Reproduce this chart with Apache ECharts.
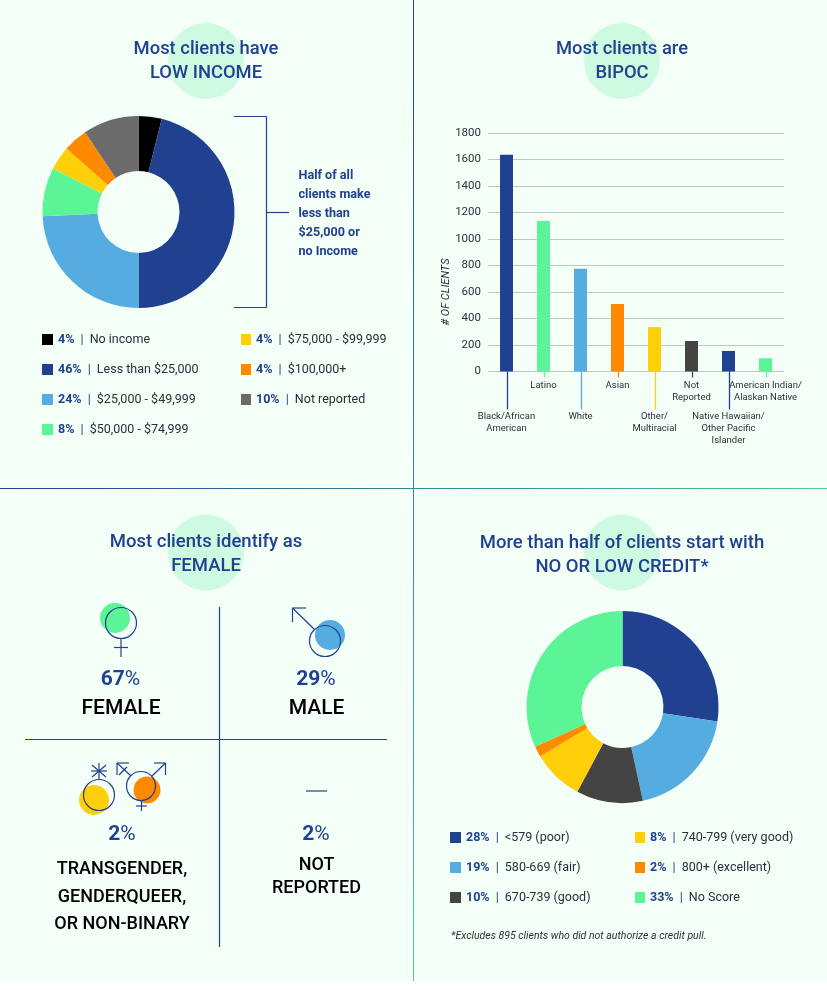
<!DOCTYPE html>
<html><head><meta charset="utf-8">
<style>html,body{margin:0;padding:0;background:#fff}#c{width:827px;height:990px}</style>
<script src="https://cdn.jsdelivr.net/npm/echarts@6/dist/echarts.min.js"></script>
</head><body><div id="c"></div>
<script>
// ---- data ----
const incomeNames = ['No income','Less than $25,000','$25,000 - $49,999','$50,000 - $74,999','$75,000 - $99,999','$100,000+','Not reported'];
const incomeLabels = [4,46,24,8,4,4,10];
const incomeValues = [3.9,46.1,24.3,8.2,4,4.1,9.4];
const raceCategories = ['Black/African\nAmerican','Latino','White','Asian','Other/\nMultiracial','Not\nReported','Native Hawaiian/\nOther Pacific\nIslander','American Indian/\nAlaskan Native'];
const raceValues = [1635,1135,775,510,335,230,155,100];
const raceTicks = [0,200,400,600,800,1000,1200,1400,1600,1800];
const creditNames = ['<579 (poor)','580-669 (fair)','670-739 (good)','740-799 (very good)','800+ (excellent)','No Score'];
const creditLabels = [28,19,10,8,2,33];
const creditValues = [27.4,19.2,11.2,8.6,1.8,31.8];
// ---- styles ----
const NAVY='#20418F',SKY='#55ACE0',GREEN='#5BF598',ORANGE='#FF8A00',YELLOW='#FFD00A',GRAY='#6B6B6B',DARK='#444444',BLACK='#000000';
const BG='#F4FFF8',MINT='#CEFAE1',INK='#2A2F3A';
const FONT='Roboto, sans-serif';
const incomeColors=[BLACK,NAVY,SKY,GREEN,YELLOW,ORANGE,GRAY];
const raceColors=[NAVY,GREEN,SKY,ORANGE,YELLOW,DARK,NAVY,GREEN];
const creditColors=[NAVY,SKY,DARK,YELLOW,ORANGE,GREEN];
const leaderLengths=[38,6,38,6,38,6,38,6];

const legendRich={p:{fontFamily:FONT,fontSize:12.5,fontWeight:700,color:NAVY,lineHeight:14},
  s:{fontFamily:FONT,fontSize:12.5,color:NAVY,lineHeight:14,padding:[0,3,0,3]},
  t:{fontFamily:FONT,fontSize:12.5,color:INK,lineHeight:14}};
function mkLegend(names,labels,subset,left,top,size){
  return {show:true,orient:'vertical',left,top,padding:0,itemGap:16,itemWidth:size,itemHeight:11,icon:'rect',
    selectedMode:false,data:subset,itemStyle:{borderWidth:0},
    textStyle:{rich:legendRich},
    formatter:n=>`{p|${labels[names.indexOf(n)]}%}{s| | }{t|${n}}`};
}
function mkTitle(line1,line2,cx,top,size){
  return {text:line1+'\n'+line2,left:cx,top,textAlign:'center',padding:0,
    textStyle:{fontFamily:FONT,fontSize:size,fontWeight:500,color:NAVY,lineHeight:23.5}};
}
function mkPie(names,values,colors,cx,cy){
  return {type:'pie',center:[cx,cy],radius:[41,96],startAngle:90,clockwise:true,silent:true,color:colors,
    label:{show:false},labelLine:{show:false},itemStyle:{borderWidth:0},
    data:names.map((n,i)=>({name:n,value:values[i]}))};
}
const ln=(x1,y1,x2,y2,stroke=NAVY,lineWidth=1.2)=>({type:'line',shape:{x1,y1,x2,y2},style:{stroke,lineWidth},silent:true,z:5});
const disc=(cx,cy,r,fill)=>({type:'circle',shape:{cx,cy,r},style:{fill},silent:true,z:3});
const ring=(cx,cy,r)=>({type:'circle',shape:{cx,cy,r},style:{fill:'transparent',stroke:NAVY,lineWidth:1.2},silent:true,z:5});
const txt=(text,x,y,size,weight,fill,align='center')=>({type:'text',x,y,silent:true,z:6,
  style:{text,align,verticalAlign:'middle',fontFamily:FONT,fontSize:size,fontWeight:weight,fill}});
const pct=(v,x,y,size)=>({type:'text',x,y,silent:true,z:6,style:{text:`{a|${v}}{b|%}`,align:'center',verticalAlign:'middle',
  rich:{a:{fontFamily:FONT,fontSize:size,fontWeight:700,fill:NAVY},b:{fontFamily:FONT,fontSize:size,fontWeight:400,fill:NAVY}}}});
const vGrad={type:'linear',x:0,y:0,x2:0,y2:1,colorStops:[{offset:0,color:NAVY},{offset:1,color:'#4FC9A0'}]};
const hGrad={type:'linear',x:0,y:0,x2:1,y2:0,colorStops:[{offset:0,color:NAVY},{offset:1,color:'#4FC9A0'}]};

const graphics=[
  {type:'rect',shape:{x:0,y:0,width:827,height:981},style:{fill:BG},silent:true,z:-10},
  {type:'rect',shape:{x:413,y:0,width:1,height:981},style:{fill:vGrad},silent:true,z:1},
  {type:'rect',shape:{x:0,y:488,width:827,height:1},style:{fill:hGrad},silent:true,z:1},
  disc(206,61,38,MINT),disc(622,61,38,MINT),disc(206,552.5,38,MINT),disc(622,552.5,38,MINT),
  // bracket
  ln(234,116.5,266.5,116.5),ln(266.5,116.5,266.5,307.5),ln(234,307.5,266.5,307.5),ln(266.5,212.5,289,212.5),
  ...['Half of all','clients make','less than','$25,000 or','no Income'].map((t,i)=>txt(t,298.5,175.5+19*i,12.6,700,NAVY,'left')),
  // y-axis title
  {type:'text',x:446,y:292,rotation:Math.PI/2,silent:true,z:6,style:{text:'# OF CLIENTS',align:'center',verticalAlign:'middle',fontFamily:FONT,fontSize:11,fontStyle:'italic',fill:INK}},
  // gender grid
  ln(219.5,607,219.5,947),ln(25,739.5,387,739.5),
  // female
  disc(115,618,15,GREEN),ring(121,623,15.5),ln(121,638.5,121,657),ln(114,647.5,128,647.5),
  // male
  disc(330,635,15,SKY),ring(325,641,15.5),ln(314,629,292.5,608),ln(292.5,608,306,608),ln(292.5,608,292.5,622),
  // trans
  disc(94,800,15,YELLOW),ring(99,795,15.5),ln(99,779.5,99,763),ln(91,771,107,771),ln(92,765,106,777),ln(106,765,92,777),
  disc(147,790,13.5,ORANGE),ring(141,786,14.5),ln(152,776,165.5,763),ln(154,763,165.5,763),ln(165.5,763,165.5,775),
  ln(131,776,117,763),ln(117,763,129,763),ln(117,763,117,775),ln(119,775,127,767),
  ln(141.5,800.5,141.5,811),ln(136,806,147,806),
  // not reported dash
  ln(306,791,327,791),
  pct(67,120.5,680,21),txt('FEMALE',121,708.5,21,500,BLACK),
  pct(29,316,680,21),txt('MALE',316.5,708.5,21,500,BLACK),
  pct(2,122,835,21),
  txt('TRANSGENDER,',122,869.5,18,500,BLACK),txt('GENDERQUEER,',122,897,18,500,BLACK),txt('OR NON-BINARY',122,924.5,18,500,BLACK),
  pct(2,316,835,21),
  txt('NOT',316.5,865,18,500,BLACK),txt('REPORTED',316.5,888.5,18,500,BLACK),
  // footnote
  {type:'text',x:451,y:936.5,silent:true,z:6,style:{text:'*Excludes 895 clients who did not authorize a credit pull.',align:'left',verticalAlign:'middle',fontFamily:FONT,fontSize:10.5,fontStyle:'italic',fill:INK}}
];

const axisLabelBase={interval:0,fontFamily:FONT,fontSize:9.5,color:INK,lineHeight:12,align:'center',verticalAlign:'top'};
const option={
  animation:false,backgroundColor:'#fff',
  title:[mkTitle('Most clients have','LOW INCOME',206,38,18.4),mkTitle('Most clients are','BIPOC',622,38,18.4),
         mkTitle('Most clients identify as','FEMALE',206,531,18.5),mkTitle('More than half of clients start with','NO OR LOW CREDIT*',622,532,18.5)],
  legend:[mkLegend(incomeNames,incomeLabels,incomeNames.slice(0,4),42,333,11),
          mkLegend(incomeNames,incomeLabels,incomeNames.slice(4),241,333,10),
          mkLegend(creditNames,creditLabels,creditNames.slice(0,3),450,831,11),
          mkLegend(creditNames,creditLabels,creditNames.slice(3),635,831,10)].map(l=>({...l,itemGap:17})),
  grid:{left:488,top:133,width:296,height:238.5,containLabel:false},
  xAxis:[
    {type:'category',data:raceCategories,position:'bottom',axisTick:{show:false},axisLine:{show:false},
     axisLabel:{...axisLabelBase,margin:8,formatter:(v,i)=>i%2===1?v:''}},
    {type:'category',data:raceCategories,position:'bottom',axisTick:{show:false},axisLine:{show:false},
     axisLabel:{...axisLabelBase,margin:39,formatter:(v,i)=>i%2===0?v:''}}
  ],
  yAxis:{type:'value',min:0,max:1800,interval:200,
    axisLine:{show:false},axisTick:{show:false},
    axisLabel:{fontFamily:FONT,fontSize:11.5,color:INK,margin:7,padding:[2,0,0,0],formatter:v=>raceTicks.includes(v)?String(v):''},
    splitLine:{show:true,lineStyle:{color:'#BFC7C4',width:1}}},
  series:[
    mkPie(incomeNames,incomeValues,incomeColors,138.5,212),
    mkPie(creditNames,creditValues,creditColors,622.5,707),
    {type:'bar',xAxisIndex:0,yAxisIndex:0,barWidth:13,silent:true,
     data:raceValues.map((v,i)=>({value:v,itemStyle:{color:raceColors[i]}}))},
    {type:'custom',xAxisIndex:0,yAxisIndex:0,silent:true,clip:false,z:1,
     data:raceCategories.map((c,i)=>[i,0]),
     renderItem:(p,api)=>{
       const i=api.value(0),pt=api.coord([i,0]),x=Math.round(pt[0])+0.5;
       return {type:'line',shape:{x1:x,y1:pt[1],x2:x,y2:pt[1]+leaderLengths[i]},style:{stroke:raceColors[i],lineWidth:1.3}};
     }}
  ],
  graphic:{elements:graphics}
};
echarts.init(document.getElementById('c')).setOption(option);
</script></body></html>
